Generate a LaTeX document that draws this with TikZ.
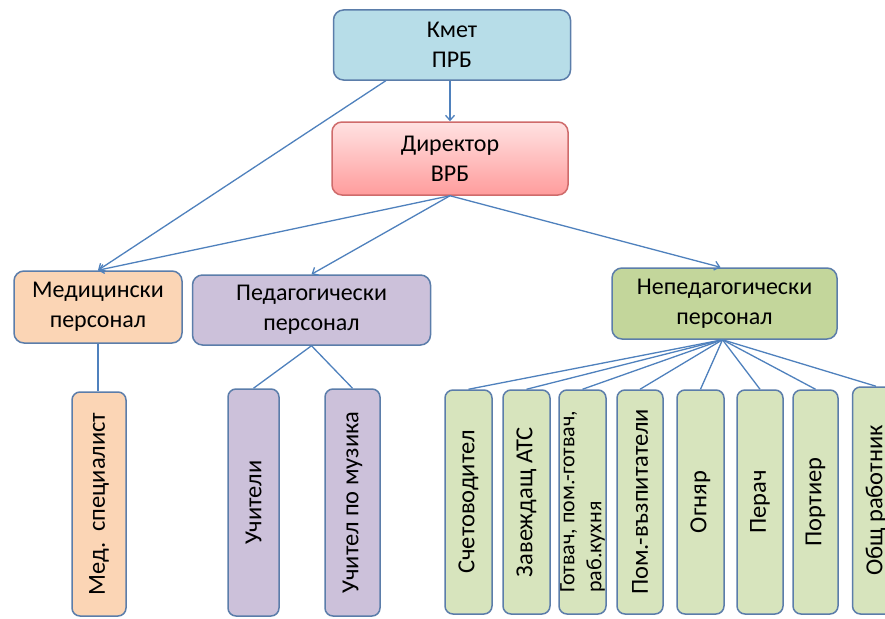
\documentclass[tikz,border=0pt]{standalone}
\usepackage{fontspec}
\setmainfont{Carlito}
\usetikzlibrary{arrows.meta,calc}
\definecolor{bord}{HTML}{5B7DAA}
\definecolor{conn}{HTML}{4F81BD}
\definecolor{kmetfill}{HTML}{B7DDE8}
\definecolor{dirtop}{HTML}{FFE2E2}
\definecolor{dirbot}{HTML}{FF9C9C}
\definecolor{dirbord}{HTML}{CF6B6B}
\definecolor{medfill}{HTML}{FBD5B5}
\definecolor{pedfill}{HTML}{CCC1DA}
\definecolor{nepedfill}{HTML}{C3D69B}
\definecolor{gfill}{HTML}{D7E4BD}
\tikzset{
  bigbox/.style={draw=bord, line width=1.5pt, rounded corners=10pt, align=center,
    font=\fontsize{24}{30}\selectfont, inner sep=0pt},
  vbox/.style={draw=bord, line width=1.5pt, rounded corners=8pt, inner sep=0pt,
    font=\fontsize{24.5}{27}\selectfont},
  link/.style={draw=conn, line width=1.3pt},
  arr/.style={link, -{Straight Barb[length=5pt,width=9pt,line width=1.3pt]}}
}
\begin{document}
\begin{tikzpicture}[x=1pt,y=-1pt]
\clip (0,0) rectangle (885,618);
\fill[white] (0,0) rectangle (885,618);

\node[bigbox, fill=kmetfill, minimum width=237pt, minimum height=70pt] (kmet) at (452,45) {Кмет\\ПРБ};
\node[bigbox, draw=dirbord, top color=dirtop, bottom color=dirbot, minimum width=236pt, minimum height=73pt] (dir) at (450,158.5) {Директор\\ВРБ};
\node[bigbox, fill=medfill, minimum width=168pt, minimum height=72pt] (med) at (98,307) {Медицински\\персонал};
\node[bigbox, fill=pedfill, minimum width=238pt, minimum height=70pt] (ped) at (311.5,310) {Педагогически\\персонал};
\node[bigbox, fill=nepedfill, minimum width=225pt, minimum height=71pt] (neped) at (724.5,303.5) {Непедагогически\\персонал};

\node[vbox, fill=medfill, minimum width=54pt, minimum height=224pt] (medsp) at (99,504) {\rotatebox{90}{Мед.\ \ специалист}};
\node[vbox, fill=pedfill, minimum width=51pt, minimum height=227pt] (uch) at (253.5,502.5) {\rotatebox{90}{Учители}};
\node[vbox, fill=pedfill, minimum width=55pt, minimum height=227pt] (uchm) at (352.5,502.5) {\rotatebox{90}{Учител по музика}};

\node[vbox, fill=gfill, minimum width=47pt, minimum height=224pt] (g1) at (468.5,502) {\rotatebox{90}{Счетоводител}};
\node[vbox, fill=gfill, minimum width=47pt, minimum height=224pt] (g2) at (526.5,502) {\rotatebox{90}{Завеждащ АТС}};
\node[vbox, fill=gfill, minimum width=47pt, minimum height=224pt] (g3) at (582.5,502) {};
\node[font=\fontsize{22}{27}\selectfont, inner sep=0pt, anchor=south] (g3t) at (582.5,593)
  {\rotatebox{90}{\begin{tabular}{@{}l@{}}Готвач, пом.-готвач,\\раб.кухня\end{tabular}}};
\node[vbox, fill=gfill, minimum width=46pt, minimum height=224pt] (g4) at (640,502) {\rotatebox{90}{Пом.-възпитатели}};
\node[vbox, fill=gfill, minimum width=47pt, minimum height=224pt] (g5) at (700.5,502) {\rotatebox{90}{Огняр}};
\node[vbox, fill=gfill, minimum width=46pt, minimum height=224pt] (g6) at (760,502) {\rotatebox{90}{Перач}};
\node[vbox, fill=gfill, minimum width=45pt, minimum height=224pt] (g7) at (815.5,502) {\rotatebox{90}{Портиер}};
\node[vbox, fill=gfill, minimum width=47pt, minimum height=227pt] (g8) at (876,500.5) {\rotatebox{90}{Общ работник}};

% connectors
\draw[arr] (kmet.south -| dir.north) -- (dir.north);
\draw[arr] ([xshift=53pt]kmet.south west) -- (med.north);
\draw[arr] (dir.south) -- (med.north);
\draw[arr] (dir.south) -- (ped.north);
\draw[arr] (dir.south) -- ([xshift=-4pt]neped.north);
\draw[link] (med.south) -- (med.south |- medsp.north);
\draw[link] (ped.south) -- (uch.north);
\draw[link] (ped.south) -- (uchm.north);
\foreach \g in {g1,g2,g3,g4,g5,g6,g7,g8}
  \draw[link] ([xshift=-2pt]neped.south) -- (\g.north);
\end{tikzpicture}
\end{document}
